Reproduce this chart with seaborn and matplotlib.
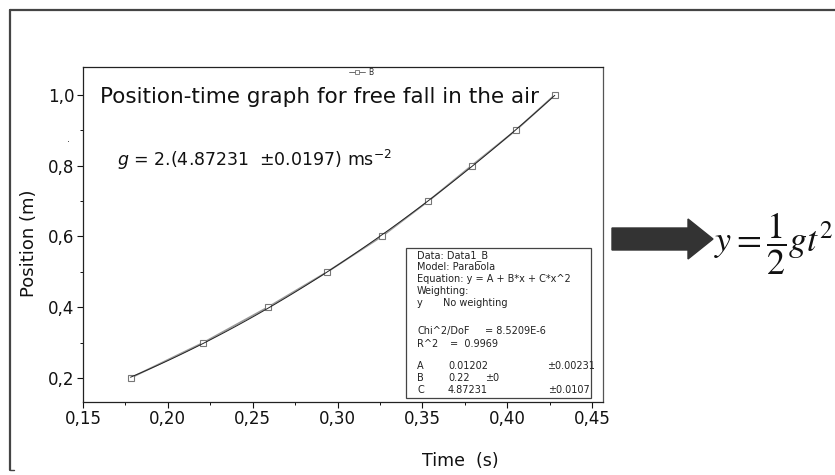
import matplotlib
matplotlib.use("Agg")
import numpy as np
import pandas as pd
import seaborn as sns
import matplotlib.pyplot as plt
from matplotlib.lines import Line2D
from matplotlib.patches import Rectangle, Polygon
from matplotlib.ticker import AutoMinorLocator

# ---------------- data ----------------
time_s = [0.178, 0.221, 0.259, 0.294, 0.326, 0.3535, 0.379, 0.405, 0.428]
position_m = [0.2, 0.3, 0.4, 0.5, 0.6, 0.7, 0.8, 0.9, 1.0]

x_ticks = [0.15, 0.20, 0.25, 0.30, 0.35, 0.40, 0.45]
x_tick_labels = ["0,15", "0,20", "0,25", "0,30", "0,35", "0,40", "0,45"]
y_ticks = [0.2, 0.4, 0.6, 0.8, 1.0]
y_tick_labels = ["0,2", "0,4", "0,6", "0,8", "1,0"]

title_text = "Position-time graph for free fall in the air"
g_text = r"$g$ = 2.(4.87231  ±0.0197) ms$^{-2}$"
x_label = "Time  (s)"
y_label = "Position (m)"
series_name = "B"

fit_header = ["Data: Data1_B", "Model: Parabola",
              "Equation: y = A + B*x + C*x^2", "Weighting:"]
fit_params = ["A", "B", "C"]
fit_values = ["0.01202", "0.22", "4.87231"]
fit_errors = ["±0.00231", "±0", "±0.0107"]

df = pd.DataFrame({"t": time_s, "y": position_m})

# ---------------- style ----------------
sns.set_theme(style="white")
plt.rcParams["font.family"] = ["DejaVu Sans"]
plt.rcParams["mathtext.fontset"] = "dejavusans"

W, H = 835, 475
fig = plt.figure(figsize=(W / 100, H / 100), dpi=100)
fig.patch.set_facecolor("white")

def fx(px):
    return px / W

def fy(py):
    return 1 - py / H

ax = fig.add_axes([fx(83), fy(402), fx(603) - fx(83), fy(67) - fy(402)])
ax.set_facecolor("white")

# data line with open squares
sns.lineplot(data=df, x="t", y="y", ax=ax, color="#9a9a9a", lw=1.3,
             marker="s", markersize=4.5, markerfacecolor="white",
             markeredgecolor="#777777", markeredgewidth=0.8, zorder=3)
# parabolic fit
sns.regplot(data=df, x="t", y="y", ax=ax, order=2, ci=None, scatter=False,
            truncate=True, line_kws=dict(color="#222222", lw=0.7, zorder=4))

ax.set_xlim(0.15, 0.4564)
ax.set_ylim(0.132, 1.079)
ax.set_xticks(x_ticks)
ax.set_xticklabels(x_tick_labels)
ax.set_yticks(y_ticks)
ax.set_yticklabels(y_tick_labels)
ax.xaxis.set_minor_locator(AutoMinorLocator(2))
ax.yaxis.set_minor_locator(AutoMinorLocator(2))
ax.tick_params(which="major", direction="out", length=4, width=0.8,
               labelsize=12, pad=2, colors="#111111", bottom=True, left=True)
ax.tick_params(which="minor", direction="out", length=2.5, width=0.7,
               bottom=True, left=True, colors="#111111")
for side in ["left", "bottom", "top"]:
    ax.spines[side].set_color("#222222")
    ax.spines[side].set_linewidth(0.9)
ax.spines["right"].set_color("#555555")
ax.spines["right"].set_linewidth(0.9)

ax.set_xlabel(x_label, fontsize=12.5, color="#111111")
ax.set_ylabel(y_label, fontsize=13, color="#111111")
ax.xaxis.set_label_coords((460 - 83) / 520, -(452 - 402) / 335)
ax.yaxis.set_label_coords((38 - 83) / 520, 1 - (243 - 67) / 335)

# tiny legend
h = Line2D([], [], color="#555555", lw=0.6, marker="s", markersize=2.2,
           markerfacecolor="white", markeredgecolor="#555555", markeredgewidth=0.5)
leg = ax.legend([h], [series_name], loc="center",
                bbox_to_anchor=(0.535, 0.985), fontsize=5.5, frameon=False,
                handlelength=2.0, handletextpad=0.4, borderaxespad=0,
                borderpad=0)

# title and g text
fig.text(fx(100), fy(97), title_text, fontsize=15.5, va="center", ha="left",
         color="#111111")
fig.text(fx(117), fy(160), g_text, fontsize=12.5, va="center", ha="left",
         color="#111111")

# fit results box
fig.add_artist(Rectangle((fx(406), fy(398)), fx(591) - fx(406), fy(248) - fy(398),
                         transform=fig.transFigure, fill=True, facecolor="white",
                         edgecolor="#444444", lw=0.9, zorder=5))
fs = 7
col = "#222222"
line_y = [256, 267, 279, 291]
for txt, yy in zip(fit_header, line_y):
    fig.text(fx(417), fy(yy), txt, fontsize=fs, va="center", color=col, zorder=6)
fig.text(fx(417), fy(303), "y", fontsize=fs, va="center", color=col, zorder=6)
fig.text(fx(443), fy(303), "No weighting", fontsize=fs, va="center", color=col, zorder=6)
fig.text(fx(417), fy(331), "Chi^2/DoF", fontsize=fs, va="center", color=col, zorder=6)
fig.text(fx(485), fy(331), "= 8.5209E-6", fontsize=fs, va="center", color=col, zorder=6)
fig.text(fx(417), fy(344), "R^2", fontsize=fs, va="center", color=col, zorder=6)
fig.text(fx(450), fy(344), "=  0.9969", fontsize=fs, va="center", color=col, zorder=6)
err_x = [547, 485, 548]
for i, (p, v, e) in enumerate(zip(fit_params, fit_values, fit_errors)):
    yy = 366 + i * 12
    fig.text(fx(417), fy(yy), p, fontsize=fs, va="center", color=col, zorder=6)
    fig.text(fx(448), fy(yy), v, fontsize=fs, va="center", color=col, zorder=6)
    fig.text(fx(err_x[i]), fy(yy), e, fontsize=fs, va="center", color=col, zorder=6)

# outer frame
fig.add_artist(Line2D([fx(10), fx(835)], [fy(10), fy(10)], color="#444444", lw=1.6))
fig.add_artist(Line2D([fx(10), fx(10)], [fy(10), fy(470)], color="#444444", lw=1.6))
fig.add_artist(Line2D([fx(10), fx(14)], [fy(470), fy(470)], color="#444444", lw=1.0))

# arrow
arrow_pts = [(612, 228), (688, 228), (688, 219), (713, 239), (688, 259),
             (688, 250), (612, 250)]
fig.add_artist(Polygon([(fx(a), fy(b)) for a, b in arrow_pts], closed=True,
                       transform=fig.transFigure, facecolor="#333333",
                       edgecolor="#333333"))
fig.text(fx(714), fy(244), r"$y=\dfrac{1}{2}gt^2$", fontsize=26, va="center",
         ha="left", math_fontfamily="stix", color="#111111")

# stray dot
fig.text(fx(69), fy(139), ".", fontsize=7, ha="center", va="center", color="#333333")

fig.savefig("out.png", dpi=100, facecolor="white")
